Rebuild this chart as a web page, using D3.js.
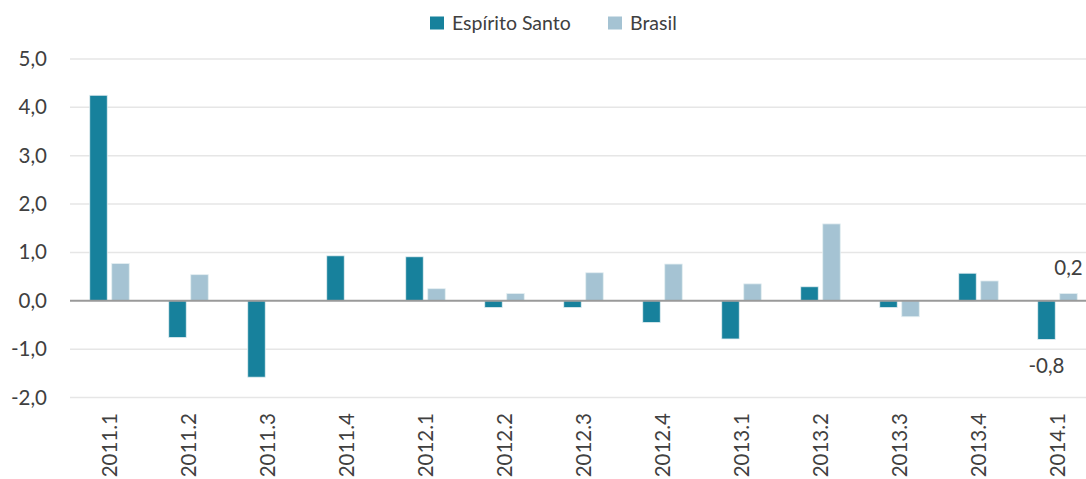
<!DOCTYPE html>
<html>
<head>
<meta charset="utf-8">
<script src="https://cdn.jsdelivr.net/npm/d3@7"></script>
<style>
  html, body { margin: 0; padding: 0; background: #fff; }
  svg { display: block; font-family: Lato, "Open Sans", sans-serif; }
</style>
</head>
<body>
<svg id="chart" width="1086" height="479"></svg>
<script>
const categories = ["2011.1","2011.2","2011.3","2011.4","2012.1","2012.2","2012.3","2012.4","2013.1","2013.2","2013.3","2013.4","2014.1"];
const seriesNames = ["Espírito Santo", "Brasil"];
const espiritoSanto = [4.25, -0.76, -1.58, 0.93, 0.91, -0.14, -0.14, -0.45, -0.79, 0.29, -0.14, 0.57, -0.8];
const brasil = [0.77, 0.54, 0.0, 0.0, 0.25, 0.15, 0.58, 0.76, 0.35, 1.59, -0.33, 0.41, 0.15];
const yTicks = [-2, -1, 0, 1, 2, 3, 4, 5];
const colors = ["#17819c", "#a5c3d3"];
const annotations = [
  { cat: "2014.1", series: "Brasil", text: "0,2" },
  { cat: "2014.1", series: "Espírito Santo", text: "-0,8" }
];

const values = { "Espírito Santo": espiritoSanto, "Brasil": brasil };
const svg = d3.select("#chart");
const margin = { left: 70, right: -11, top: 59, bottom: 81 };
const W = 1086, H = 479;
const FS = 20.5;

const locale = d3.formatLocale({ decimal: ",", thousands: ".", grouping: [3], currency: ["", ""], minus: "-" });
const fmt = locale.format(".1f");

const x0 = d3.scaleBand().domain(categories).range([margin.left, W - margin.right]).padding(0);
const bw = x0.bandwidth();
const x1 = d3.scaleBand().domain(seriesNames).range([bw / 2 - 19.75, bw / 2 + 19.75]).paddingInner(0.205).paddingOuter(0);
const y = d3.scaleLinear().domain([-2, 5]).range([397.5, 59]);
const color = d3.scaleOrdinal().domain(seriesNames).range(colors);

// gridlines
svg.append("g").selectAll("line").data(yTicks.filter(d => d !== 0)).join("line")
  .attr("x1", margin.left).attr("x2", W)
  .attr("y1", d => y(d)).attr("y2", d => y(d))
  .attr("stroke", "#e6e6e6").attr("stroke-width", 1.5);

// y axis labels
const yAxis = d3.axisLeft(y).tickValues(yTicks).tickFormat(fmt).tickSize(0).tickPadding(0);
const gy = svg.append("g").attr("transform", `translate(47,0)`).call(yAxis);
gy.select(".domain").remove();
gy.selectAll("text").attr("font-size", FS).attr("fill", "#404040").attr("font-family", "Lato, 'Open Sans', sans-serif");

// bars
const flat = [];
categories.forEach((c, i) => seriesNames.forEach(s => flat.push({ cat: c, series: s, value: values[s][i] })));
svg.append("g").selectAll("rect").data(flat.filter(d => d.value !== 0)).join("rect")
  .attr("x", d => x0(d.cat) + x1(d.series))
  .attr("width", x1.bandwidth())
  .attr("y", d => y(Math.max(0, d.value)))
  .attr("height", d => Math.abs(y(d.value) - y(0)))
  .attr("fill", d => color(d.series))
  .attr("stroke", "#e4eef2").attr("stroke-width", 0.8);

// zero line
svg.append("line")
  .attr("x1", margin.left).attr("x2", W)
  .attr("y1", y(0)).attr("y2", y(0))
  .attr("stroke", "#9a9a9a").attr("stroke-width", 2);

// x axis labels
const xAxis = d3.axisBottom(x0).tickSize(0).tickPadding(0);
const gx = svg.append("g").attr("transform", `translate(0,413)`).call(xAxis);
gx.select(".domain").remove();
gx.selectAll("text")
  .attr("font-size", FS).attr("fill", "#404040").attr("font-family", "Lato, 'Open Sans', sans-serif")
  .attr("transform", "rotate(-90)")
  .attr("text-anchor", "end")
  .attr("x", 0).attr("y", 0).attr("dy", "0.35em");

// annotations
svg.append("g").selectAll("text").data(annotations).join("text")
  .attr("x", d => x0(d.cat) + x1(d.series) + x1.bandwidth() / 2)
  .attr("y", d => {
    const v = values[d.series][categories.indexOf(d.cat)];
    return v >= 0 ? y(v) - 19 : y(v) + 34;
  })
  .attr("text-anchor", "middle")
  .attr("font-size", FS).attr("fill", "#404040")
  .text(d => d.text);

// legend
const legend = svg.append("g").attr("transform", "translate(430,0)");
const items = [{ name: seriesNames[0], x: 0 }, { name: seriesNames[1], x: 178 }];
const li = legend.selectAll("g").data(items).join("g").attr("transform", d => `translate(${d.x},0)`);
li.append("rect").attr("x", 0).attr("y", 16.5).attr("width", 14).attr("height", 13).attr("fill", d => color(d.name));
li.append("text").attr("x", 22).attr("y", 23).attr("dy", "0.35em").attr("font-size", 19.5).attr("fill", "#404040").text(d => d.name);
</script>
</body>
</html>
